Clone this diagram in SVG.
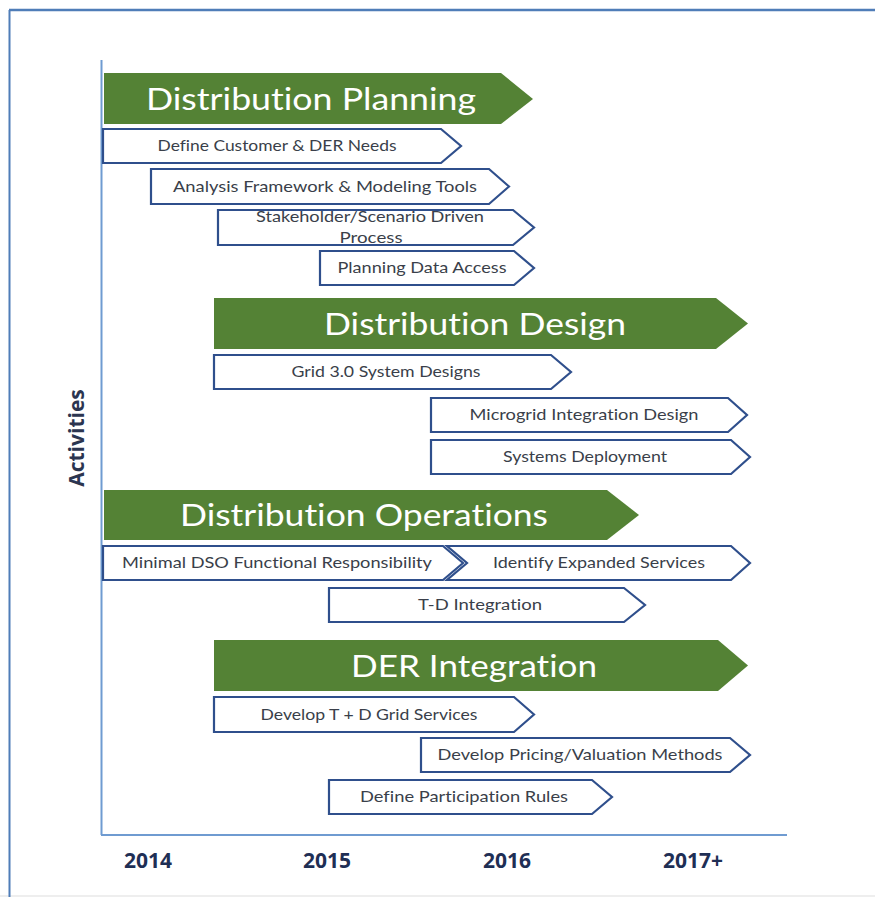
<svg xmlns="http://www.w3.org/2000/svg" width="875" height="897" viewBox="0 0 875 897">
<style>
text{font-variant-ligatures:none;font-feature-settings:"liga" 0,"clig" 0}
.bn{fill:#548235}
.bt{fill:#ffffff;font-family:Lato,"Open Sans",sans-serif;font-size:31px;text-anchor:middle}
.bx{fill:#ffffff;stroke:#2f4f8c;stroke-width:2.2;stroke-linejoin:miter}
.tx{fill:#3a3f4a;font-family:Lato,"Open Sans",sans-serif;font-size:15px;text-anchor:middle}
.yr{fill:#1f2f55;font-family:"Open Sans","Noto Sans",sans-serif;font-size:21px;font-weight:bold;text-anchor:middle}
.ax{stroke:#6f9bd1;stroke-width:2;fill:none}
</style>
<rect x="0" y="0" width="875" height="897" fill="#ffffff"/>
<rect x="0" y="895" width="875" height="2" fill="#eeeeee"/>
<g id="frame">
<line x1="9.5" y1="10" x2="9.5" y2="897" stroke="#4f7db8" stroke-width="2"/>
<line x1="9" y1="10" x2="875" y2="10" stroke="#4f7db8" stroke-width="2.5"/>
</g>
<g id="axes">
<line class="ax" x1="101.5" y1="60" x2="101.5" y2="835"/>
<line class="ax" x1="101" y1="835" x2="787" y2="835"/>
<text x="84" y="438" transform="rotate(-90 84 438)" style="fill:#2b3550;font-family:'Open Sans','Noto Sans',sans-serif;font-size:21px;font-weight:bold;text-anchor:middle">Activities</text>
</g>
<g id="years">
<text class="yr" x="148" y="868">2014</text>
<text class="yr" x="327" y="868">2015</text>
<text class="yr" x="507" y="868">2016</text>
<text class="yr" x="693" y="868">2017+</text>
</g>

<g id="distribution-planning">
<polygon class="bn" points="104,73 501,73 533,99 501,124 104,124"/>
<text class="bt" x="311" y="110" textLength="330" lengthAdjust="spacingAndGlyphs">Distribution Planning</text>
</g>
<g id="define-customer">
<polygon class="bx" points="103,129 441,129 461,146 441,163 103,163"/>
<text class="tx" x="277" y="151" textLength="239" lengthAdjust="spacingAndGlyphs">Define Customer &amp; DER Needs</text>
</g>
<g id="analysis-framework">
<polygon class="bx" points="151,169 489,169 509,186.5 489,204 151,204"/>
<text class="tx" x="325" y="191.5" textLength="304" lengthAdjust="spacingAndGlyphs">Analysis Framework &amp; Modeling Tools</text>
</g>
<g id="stakeholder-process">
<polygon class="bx" points="218,210 513,210 534,227.5 513,245 218,245"/>
<text class="tx" x="370" y="222" textLength="228" lengthAdjust="spacingAndGlyphs">Stakeholder/Scenario Driven</text>
<text class="tx" x="371" y="243" textLength="63" lengthAdjust="spacingAndGlyphs">Process</text>
</g>
<g id="planning-data-access">
<polygon class="bx" points="320,251 514,251 534,268 514,285 320,285"/>
<text class="tx" x="422" y="273" textLength="169" lengthAdjust="spacingAndGlyphs">Planning Data Access</text>
</g>

<g id="distribution-design">
<polygon class="bn" points="214,298 716,298 748,323.5 716,349 214,349"/>
<text class="bt" x="475" y="335" textLength="302" lengthAdjust="spacingAndGlyphs">Distribution Design</text>
</g>
<g id="grid-system-designs">
<polygon class="bx" points="214,355 551,355 571,372 551,389 214,389"/>
<text class="tx" x="386" y="377" textLength="189" lengthAdjust="spacingAndGlyphs">Grid 3.0 System Designs</text>
</g>
<g id="microgrid-integration">
<polygon class="bx" points="431,398 728,398 747,415 728,432 431,432"/>
<text class="tx" x="584" y="420" textLength="229" lengthAdjust="spacingAndGlyphs">Microgrid Integration Design</text>
</g>
<g id="systems-deployment">
<polygon class="bx" points="431,440 731,440 750,457 731,474 431,474"/>
<text class="tx" x="585" y="462" textLength="164" lengthAdjust="spacingAndGlyphs">Systems Deployment</text>
</g>

<g id="distribution-operations">
<polygon class="bn" points="104,490 607,490 639,515 607,540 104,540"/>
<text class="bt" x="364" y="526" textLength="368" lengthAdjust="spacingAndGlyphs">Distribution Operations</text>
</g>
<g id="minimal-dso">
<polygon class="bx" points="103,546 443,546 463,563 443,580 103,580"/>
<text class="tx" x="277" y="568" textLength="310" lengthAdjust="spacingAndGlyphs">Minimal DSO Functional Responsibility</text>
</g>
<g id="identify-expanded">
<polygon class="bx" points="447,546 731,546 750,563 731,580 447,580 467,563"/>
<text class="tx" x="599" y="568" textLength="212" lengthAdjust="spacingAndGlyphs">Identify Expanded Services</text>
</g>
<g id="td-integration">
<polygon class="bx" points="329,588 624,588 645,605 624,622 329,622"/>
<text class="tx" x="480" y="610" textLength="124" lengthAdjust="spacingAndGlyphs">T-D Integration</text>
</g>

<g id="der-integration">
<polygon class="bn" points="214,640 718,640 748,665.5 718,691 214,691"/>
<text class="bt" x="474" y="677" textLength="246" lengthAdjust="spacingAndGlyphs">DER Integration</text>
</g>
<g id="develop-td-grid">
<polygon class="bx" points="214,697 514,697 534,714.5 514,732 214,732"/>
<text class="tx" x="369" y="719.5" textLength="217" lengthAdjust="spacingAndGlyphs">Develop T + D Grid Services</text>
</g>
<g id="develop-pricing">
<polygon class="bx" points="421,738 730,738 750,755 730,772 421,772"/>
<text class="tx" x="580" y="760" textLength="285" lengthAdjust="spacingAndGlyphs">Develop Pricing/Valuation Methods</text>
</g>
<g id="define-participation">
<polygon class="bx" points="329,780 592,780 612,797 592,814 329,814"/>
<text class="tx" x="464" y="802" textLength="208" lengthAdjust="spacingAndGlyphs">Define Participation Rules</text>
</g>
<g id="connectors"></g>
</svg>
